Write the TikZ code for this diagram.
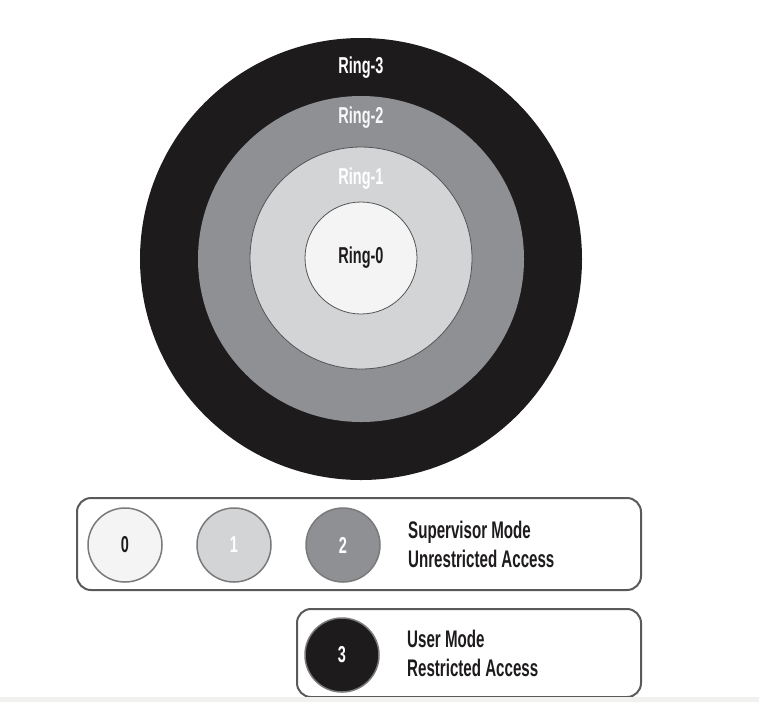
\documentclass[tikz,border=0pt]{standalone}
\usepackage{fontspec}
\setmainfont{Liberation Sans}[FakeStretch=0.63]
\usepackage{xcolor}
\usetikzlibrary{positioning}

\definecolor{ringblack}{HTML}{1E1B1C}
\definecolor{ringgray}{HTML}{8F9094}
\definecolor{ringlight}{HTML}{D3D4D6}
\definecolor{ringwhite}{HTML}{F4F4F4}
\definecolor{ringedge}{HTML}{555555}
\definecolor{keyline}{HTML}{7A7A7A}
\definecolor{boxline}{HTML}{5A5A5A}
\definecolor{stripgray}{HTML}{F1F1EF}

\begin{document}
\begin{tikzpicture}[x=1pt, y=-1pt,
    ringdisk/.style={circle, inner sep=0pt, minimum size=#1},
    ringlabel/.style={font=\fontsize{23}{25}\selectfont\bfseries, inner sep=0pt},
    keydisk/.style={circle, draw=keyline, line width=1.5pt, minimum size=74pt, inner sep=0pt, font=\fontsize{23}{23}\selectfont\bfseries},
    keybox/.style={rectangle, rounded corners=14pt, draw=boxline, line width=2pt, inner sep=0pt},
    keytext/.style={align=left, anchor=west, font=\fontsize{24}{29}\selectfont\bfseries, text=ringblack, inner sep=0pt}
  ]
    \useasboundingbox[fill=white] (0,0) rectangle (759,702);

    % Concentric rings
    \node[ringdisk=442pt, fill=ringblack] (ring3) at (361,259) {};
    \node[ringdisk=326pt, fill=ringgray] (ring2) at (361,259) {};
    \node[ringdisk=222pt, fill=ringlight, draw=ringedge, line width=0.8pt] (ring1) at (361,258) {};
    \node[ringdisk=112pt, fill=ringwhite, draw=ringedge, line width=0.8pt] (ring0) at (361,258) {};

    \node[ringlabel, text=white] (lab3) at (361,68) {Ring-3};
    \node[ringlabel, text=white!94!ringgray] (lab2) at (361,118) {Ring-2};
    \node[ringlabel, text=white] (lab1) at (361,179) {Ring-1};
    \node[ringlabel, text=ringblack] (lab0) at (ring0.center) {Ring-0};

    % Supervisor mode key
    \node[keybox, minimum width=564pt, minimum height=92pt] (supbox) at (359,544) {};
    \node[keydisk, fill=ringwhite, text=ringblack] (key0) at (125,545) {0};
    \node[keydisk, fill=ringlight, text=white] (key1) at (234,545) {1};
    \node[keydisk, fill=ringgray, text=white] (key2) at (343,545) {2};
    \node[keytext] (suptext) at (408,544) {Supervisor Mode\\Unrestricted Access};

    % User mode key
    \node[keybox, minimum width=344pt, minimum height=88pt] (usrbox) at (469,653) {};
    \node[keydisk, fill=ringblack, text=white] (key3) at (342,655) {3};
    \node[keytext] (usrtext) at (407,653) {User Mode\\Restricted Access};

    \fill[stripgray] (0,697) rectangle (759,702);
\end{tikzpicture}
\end{document}
